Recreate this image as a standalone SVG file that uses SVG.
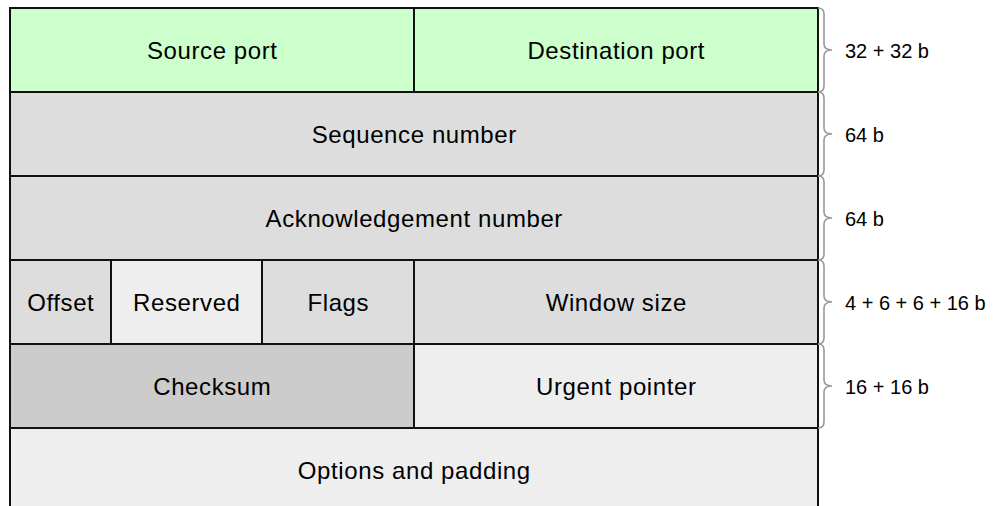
<svg xmlns="http://www.w3.org/2000/svg" width="995" height="506" viewBox="0 0 995 506">
<style>
.c{stroke:#111;stroke-width:2}
.g{fill:#ccffcc}.d{fill:#dddddd}.l{fill:#eeeeee}.k{fill:#cccccc}
.t{font-family:"Liberation Sans",Arial,sans-serif;font-size:24px;letter-spacing:0.6px;fill:#000;text-anchor:middle}
.s{font-family:"Liberation Sans",Arial,sans-serif;font-size:20px;fill:#000}
.b{fill:none;stroke:#999;stroke-width:1.6}
</style>
<rect width="995" height="506" fill="#fff"/>
<g id="source-port"><rect class="c g" x="10" y="8" width="404" height="84"/><text class="t" x="212.3" y="58.5">Source port</text></g>
<g id="destination-port"><rect class="c g" x="414" y="8" width="404" height="84"/><text class="t" x="616.3" y="58.5">Destination port</text></g>
<g id="sequence-number"><rect class="c d" x="10" y="92" width="808" height="84"/><text class="t" x="414.3" y="142.5">Sequence number</text></g>
<g id="ack-number"><rect class="c d" x="10" y="176" width="808" height="84"/><text class="t" x="414.3" y="226.5">Acknowledgement number</text></g>
<g id="offset"><rect class="c d" x="10" y="260" width="101" height="84"/><text class="t" x="60.8" y="310.5">Offset</text></g>
<g id="reserved"><rect class="c l" x="111" y="260" width="151" height="84"/><text class="t" x="186.8" y="310.5">Reserved</text></g>
<g id="flags"><rect class="c d" x="262" y="260" width="152" height="84"/><text class="t" x="338.3" y="310.5">Flags</text></g>
<g id="window-size"><rect class="c d" x="414" y="260" width="404" height="84"/><text class="t" x="616.3" y="310.5">Window size</text></g>
<g id="checksum"><rect class="c k" x="10" y="344" width="404" height="84"/><text class="t" x="212.3" y="394.5">Checksum</text></g>
<g id="urgent-pointer"><rect class="c l" x="414" y="344" width="404" height="84"/><text class="t" x="616.3" y="394.5">Urgent pointer</text></g>
<g id="options"><rect class="c l" x="10" y="428" width="808" height="100"/><text class="t" x="414.3" y="478.5">Options and padding</text></g>
<g id="braces">
<path class="b" d="M818,8 Q824,8 824,14 V44 Q824,50 832,50 Q824,50 824,56 V86 Q824,92 818,92"/>
<path class="b" d="M818,92 Q824,92 824,98 V128 Q824,134 832,134 Q824,134 824,140 V170 Q824,176 818,176"/>
<path class="b" d="M818,176 Q824,176 824,182 V212 Q824,218 832,218 Q824,218 824,224 V254 Q824,260 818,260"/>
<path class="b" d="M818,260 Q824,260 824,266 V296 Q824,302 832,302 Q824,302 824,308 V338 Q824,344 818,344"/>
<path class="b" d="M818,344 Q824,344 824,350 V380 Q824,386 832,386 Q824,386 824,392 V422 Q824,428 818,428"/>
</g>
<g id="size-labels">
<text class="s" x="845" y="58">32 + 32 b</text>
<text class="s" x="845" y="142">64 b</text>
<text class="s" x="845" y="226">64 b</text>
<text class="s" x="845" y="310">4 + 6 + 6 + 16 b</text>
<text class="s" x="845" y="394">16 + 16 b</text>
</g>
</svg>
